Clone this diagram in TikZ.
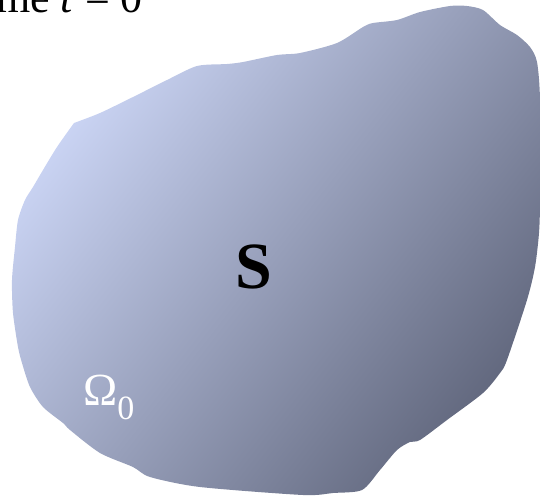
\documentclass[tikz,border=0pt]{standalone}
\usepackage{fontspec}
\setmainfont{Liberation Serif}
\usepackage{tikz}
\usetikzlibrary{positioning}
\definecolor{bodylight}{HTML}{CDD7F7}
\definecolor{bodydark}{HTML}{62687E}

\begin{document}
\begin{tikzpicture}[x=1pt, y=-1pt,
  bodyfill/.style={top color=bodylight, bottom color=bodydark, shading angle=52},
  titletext/.style={font=\fontsize{44}{44}\selectfont, inner sep=0pt, anchor=base west},
  bodyletter/.style={font=\fontsize{66}{66}\selectfont\bfseries, inner sep=0pt},
  domaintext/.style={font=\fontsize{46}{46}\selectfont\color{white}, inner sep=0pt, anchor=base west},
]
\clip (0,0) rectangle (541,496);

% the body at time zero (corner at the upper left)
\shade[bodyfill] plot[smooth, tension=0.45] coordinates {
  (74,123) (100,113) (133,97) (167,80) (197,66) (227,64) (243,62) (277,55)
  (300,53) (337,43) (363,27) (373,23) (397,20) (420,12) (450,6) (467,6)
  (483,10) (500,25) (517,35) (530,47) (537,62) (540,100) (540,200) (539,233)
  (535,267) (527,300) (507,360) (500,373) (483,393) (447,420) (420,440)
  (410,442) (397,450) (380,470) (362,490) (333,493) (303,495) (200,487)
  (150,477) (133,467) (100,453) (70,430) (63,423) (43,407) (30,387)
  (22,363) (18,347) (13,313) (12,280) (15,247) (18,220) (25,200) (33,187)
  (43,170) (57,147) (74,123)} -- cycle;

\node[titletext] (title) at (-4,12) {me \textit{t} = 0};
\node[bodyletter] (S) at (254,267) {S};
\node[domaintext] (omega) at (83,405) {Ω\raisebox{-14pt}{\fontsize{34}{34}\selectfont 0}};
\end{tikzpicture}
\end{document}
